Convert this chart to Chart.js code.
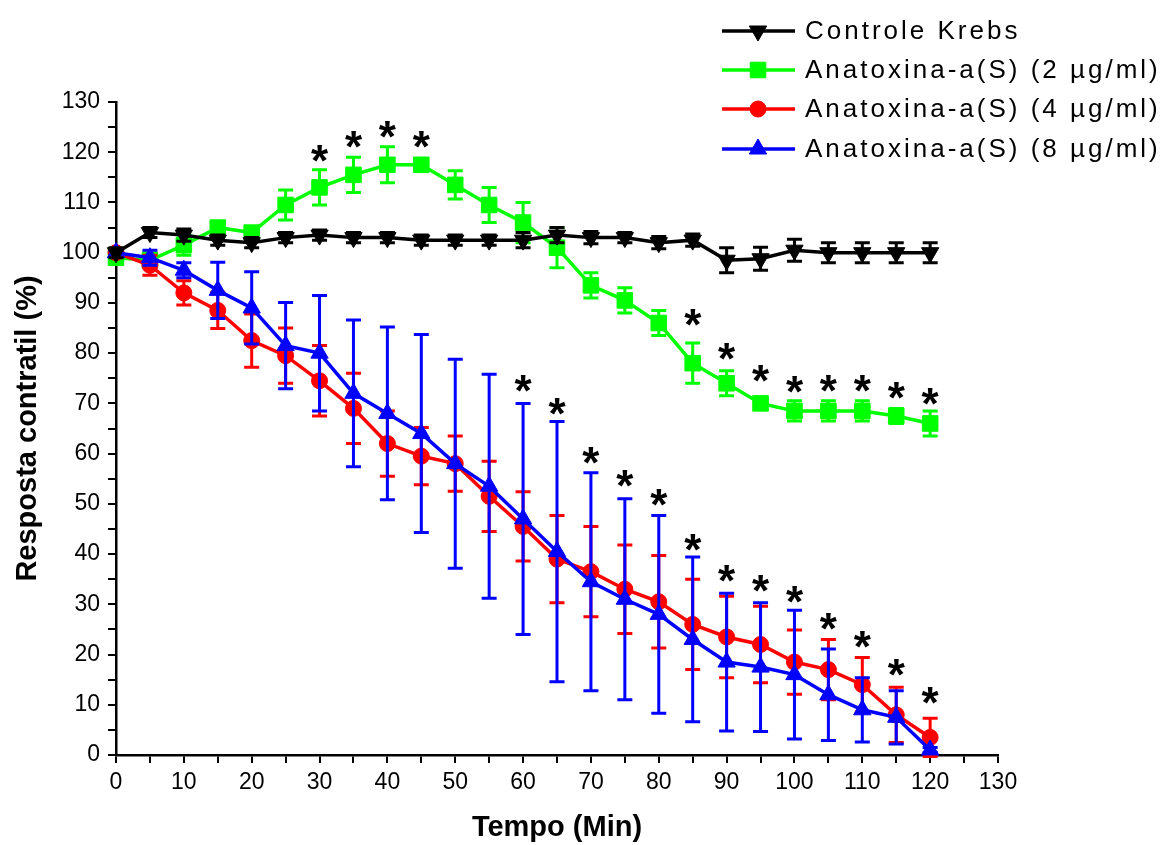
<!DOCTYPE html>
<html>
<head>
<meta charset="utf-8">
<script src="https://cdn.jsdelivr.net/npm/chart.js@4.4.1/dist/chart.umd.min.js"></script>
<style>
  html, body { margin: 0; padding: 0; background: #fff; }
  canvas { display: block; }
</style>
</head>
<body>
<canvas id="chart" width="1165" height="845"></canvas>
<script>
// time points (min)
const times = [0, 5, 10, 15, 20, 25, 30, 35, 40, 45, 50, 55, 60, 65, 70, 75, 80, 85, 90, 95, 100, 105, 110, 115, 120];

// mean contractile response (%) and error for each group
const krebs = [100, 104, 103.5, 102.5, 102, 103, 103.5, 103, 103, 102.5, 102.5, 102.5, 102.5, 103.5, 103, 103, 102, 102.5, 98.5, 98.8, 100.5, 100, 100, 100, 100];
const krebsErr = [1, 1, 1.2, 1, 1, 1, 1, 1, 1, 1, 1, 1, 1.5, 1.5, 1.2, 1, 1.2, 1.2, 2.5, 2.3, 2.2, 2, 2, 2, 2];

const dose2 = [99, 98.5, 101.5, 105, 104, 109.5, 113, 115.5, 117.5, 117.5, 113.5, 109.5, 106, 101, 93.5, 90.5, 86, 78, 74, 70, 68.5, 68.5, 68.5, 67.5, 66];
const dose2Err = [1, 1.5, 2, 1, 1, 3, 3.5, 3.5, 3.6, 1, 2.8, 3.5, 4, 4, 2.5, 2.5, 2.5, 4, 2.5, 1, 2, 2, 2, 1.5, 2.5];

const dose4 = [100, 97.5, 92, 88.5, 82.5, 79.5, 74.5, 69, 62, 59.5, 58, 51.5, 45.5, 39, 36.5, 33, 30.5, 26, 23.5, 22, 18.5, 17, 14, 8, 3.5];
const dose4Err = [0.5, 2, 2.4, 3.6, 5.3, 5.5, 7, 7, 6.5, 5.7, 5.5, 7, 6.9, 8.7, 9, 8.8, 9.2, 9, 8.1, 7.6, 6.4, 6, 5.4, 5.5, 3.8];

const dose8 = [100, 99, 96.5, 92.5, 89, 81.5, 80, 72, 68, 64, 58, 53.5, 47, 40.5, 34.5, 31, 28, 23, 18.5, 17.5, 16, 12, 9, 7.5, 1];
const dose8Err = [0.5, 1.5, 1.5, 5.6, 7.2, 8.6, 11.5, 14.6, 17.2, 19.7, 20.8, 22.3, 23, 25.9, 21.7, 20, 19.7, 16.4, 13.7, 12.8, 12.8, 9.1, 6.4, 5.3, 0.5];

// significance marks (*)
const starX = [30, 35, 40, 45, 60, 65, 70, 75, 80, 85, 90, 95, 100, 105, 110, 115, 120, 85, 90, 95, 100, 105, 110, 115, 120];
const starY = [119.8, 122.5, 124.6, 122.6, 74, 69.3, 59.7, 55.1, 51.2, 42.4, 36.2, 34.2, 31.9, 26.5, 22.9, 17.5, 11.9, 87, 80.3, 76, 73.8, 74, 74, 72.5, 71.3];

const seriesNames = ['Controle Krebs', 'Anatoxina-a(S) (2 \u00b5g/ml)', 'Anatoxina-a(S) (4 \u00b5g/ml)', 'Anatoxina-a(S) (8 \u00b5g/ml)'];

const FONT = '"Liberation Sans", Arial, sans-serif';

const pts = vals => times.map((t, i) => ({ x: t, y: vals[i] }));

const makeSet = (label, vals, errs, color, style, radius, rotation, order) => ({
  label: label,
  data: pts(vals),
  errorBars: errs,
  borderColor: color,
  backgroundColor: color,
  borderWidth: 3.5,
  pointStyle: style,
  pointRadius: radius,
  pointRotation: rotation,
  pointBorderWidth: 1,
  pointHoverRadius: radius,
  tension: 0,
  clip: false,
  order: order,
});

const datasets = [
  makeSet(seriesNames[0], krebs, krebsErr, '#000000', 'triangle', 10, 180, 0),
  makeSet(seriesNames[1], dose2, dose2Err, '#00ff00', 'rect', 11, 0, 3),
  makeSet(seriesNames[2], dose4, dose4Err, '#ff0000', 'circle', 8, 0, 2),
  makeSet(seriesNames[3], dose8, dose8Err, '#0000ff', 'triangle', 10, 0, 1),
];

// vertical error bars with caps, drawn just under each dataset
const errorBarPlugin = {
  id: 'errorBars',
  beforeDatasetDraw(chart, args) {
    const ds = chart.data.datasets[args.index];
    if (!ds.errorBars) return;
    const xs = chart.scales.x, ys = chart.scales.y;
    const ctx = chart.ctx;
    ctx.save();
    ctx.strokeStyle = ds.borderColor;
    ctx.lineWidth = 3;
    ds.data.forEach((p, i) => {
      const e = ds.errorBars[i];
      const px = xs.getPixelForValue(p.x);
      const top = ys.getPixelForValue(p.y + e);
      const bot = ys.getPixelForValue(p.y - e);
      ctx.beginPath();
      ctx.moveTo(px, top); ctx.lineTo(px, bot);
      ctx.moveTo(px - 7.5, top); ctx.lineTo(px + 7.5, top);
      ctx.moveTo(px - 7.5, bot); ctx.lineTo(px + 7.5, bot);
      ctx.stroke();
    });
    ctx.restore();
  }
};

const starPlugin = {
  id: 'stars',
  afterDatasetsDraw(chart) {
    const xs = chart.scales.x, ys = chart.scales.y;
    const ctx = chart.ctx;
    ctx.save();
    ctx.fillStyle = '#000';
    ctx.font = 'bold 44px ' + FONT;
    ctx.textAlign = 'center';
    ctx.textBaseline = 'alphabetic';
    const m = ctx.measureText('*');
    const shift = (m.actualBoundingBoxAscent - m.actualBoundingBoxDescent) / 2;
    starX.forEach((x, i) => {
      ctx.fillText('*', xs.getPixelForValue(x), ys.getPixelForValue(starY[i]) + shift);
    });
    ctx.restore();
  }
};

const legendPlugin = {
  id: 'sideLegend',
  afterDraw(chart) {
    const ctx = chart.ctx;
    const rows = [31, 70, 109, 149];
    ctx.save();
    chart.data.datasets.forEach((ds, i) => {
      const y = rows[i];
      ctx.strokeStyle = ds.borderColor;
      ctx.fillStyle = ds.backgroundColor;
      ctx.lineWidth = 3.5;
      ctx.beginPath();
      ctx.moveTo(722, y); ctx.lineTo(795, y);
      ctx.stroke();
      ctx.lineWidth = 1;
      Chart.helpers.drawPoint(ctx, {
        pointStyle: ds.pointStyle, rotation: ds.pointRotation,
        radius: ds.pointRadius, borderWidth: 1
      }, 758, y);
      ctx.fillStyle = '#000';
      ctx.font = '26px ' + FONT;
      ctx.letterSpacing = '3px';
      ctx.textAlign = 'left';
      ctx.textBaseline = 'middle';
      ctx.fillText(ds.label, 805, y + 1);
    });
    ctx.restore();
  }
};

const tickFont = { family: FONT, size: 23 };
const titleFont = { family: FONT, size: 29, weight: 'bold' };

new Chart(document.getElementById('chart'), {
  type: 'line',
  data: { datasets: datasets },
  plugins: [errorBarPlugin, starPlugin, legendPlugin],
  options: {
    responsive: false,
    animation: false,
    layout: { padding: { top: 102, right: 167, bottom: 0, left: 0 } },
    plugins: { legend: { display: false }, tooltip: { enabled: false } },
    scales: {
      x: {
        type: 'linear', min: 0, max: 130,
        afterFit: s => { s.height = 90; },
        ticks: {
          stepSize: 5, autoSkip: false, maxRotation: 0, color: '#000', font: tickFont, padding: 6,
          callback: v => (v % 10 === 0 ? v : '')
        },
        grid: { drawOnChartArea: false, color: '#000', lineWidth: 2, tickLength: 8 },
        border: { color: '#000', width: 2.5 },
        title: { display: true, text: 'Tempo (Min)', color: '#000', font: titleFont, padding: { top: 0, bottom: 0 } }
      },
      y: {
        type: 'linear', min: 0, max: 130,
        afterFit: s => { s.width = 116; },
        ticks: {
          stepSize: 5, autoSkip: false, color: '#000', font: tickFont, padding: 8,
          callback: v => (v % 10 === 0 ? v : '')
        },
        grid: { drawOnChartArea: false, color: '#000', lineWidth: 2, tickLength: 8 },
        border: { color: '#000', width: 2.5 },
        title: { display: true, text: 'Resposta contratil (%)', color: '#000', font: titleFont, padding: { top: 11, bottom: 0 } }
      }
    }
  }
});
</script>
</body>
</html>
